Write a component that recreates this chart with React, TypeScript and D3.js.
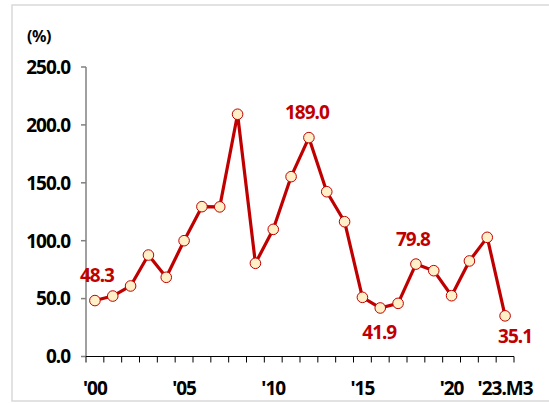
import React from "react";
import * as d3 from "d3";

const categories: string[] = [
  "2000","2001","2002","2003","2004","2005","2006","2007","2008","2009","2010","2011",
  "2012","2013","2014","2015","2016","2017","2018","2019","2020","2021","2022","2023.M3",
];
const values: number[] = [
  48.3, 52.2, 60.9, 87.6, 68.4, 100.0, 129.4, 129.2, 209.2, 80.5, 109.8, 155.3,
  189.0, 142.3, 116.4, 51.1, 41.9, 45.9, 79.8, 74.1, 52.5, 82.5, 102.9, 35.1,
];
const xTickLabels: { idx: number; text: string }[] = [
  { idx: 0, text: "'00" },
  { idx: 5, text: "'05" },
  { idx: 10, text: "'10" },
  { idx: 15, text: "'15" },
  { idx: 20, text: "'20" },
  { idx: 23, text: "'23.M3" },
];
const yTicks: number[] = [0, 50, 100, 150, 200, 250];
const annotations: { idx: number; text: string; dx: number; dy: number }[] = [
  { idx: 0, text: "48.3", dx: 2, dy: -19 },
  { idx: 12, text: "189.0", dx: -2, dy: -19 },
  { idx: 16, text: "41.9", dx: -1, dy: 31 },
  { idx: 18, text: "79.8", dx: -3, dy: -18 },
  { idx: 23, text: "35.1", dx: 10, dy: 27 },
];

const W = 549;
const H = 404;
const left = 86;
const right = 514;
const top = 67;
const bottom = 356.5;
const RED = "#C00000";
const FONT = "'Noto Sans', sans-serif";

export default function App() {
  const x = d3.scaleBand<string>().domain(categories).range([left, right]).padding(0);
  const y = d3.scaleLinear().domain([0, 250]).range([bottom, top]);
  const cx = (i: number) => (x(categories[i]) as number) + x.bandwidth() / 2;

  const line = d3
    .line<number>()
    .x((_, i) => cx(i))
    .y((d) => y(d));

  const tickPositions = d3.range(categories.length + 1).map((i) => left + i * x.bandwidth());

  return (
    <svg
      width={W}
      height={H}
      style={{ position: "absolute", left: 0, top: 0, background: "#fff" }}
    >
      <rect x={12} y={5} width={560} height={396} fill="#fff" stroke="#D9D9D9" strokeWidth={1.5} />
      <text x={39} y={42} textAnchor="middle" fontFamily={FONT} fontWeight={700} fontSize={16} letterSpacing={-0.5} fill="#000">
        (%)
      </text>
      {/* y axis */}
      <line x1={left} x2={left} y1={top} y2={bottom} stroke="#808080" strokeWidth={1.5} />
      {yTicks.map((t) => (
        <g key={t}>
          <line x1={left - 5} x2={left} y1={y(t)} y2={y(t)} stroke="#808080" strokeWidth={1.5} />
          <text
            x={70}
            y={y(t)}
            dy="0.36em"
            textAnchor="end"
            fontFamily={FONT}
            fontWeight={700}
            fontSize={19}
            letterSpacing={-1}
            fill="#000"
          >
            {t.toFixed(1)}
          </text>
        </g>
      ))}
      {/* x axis */}
      <line x1={left} x2={right} y1={bottom} y2={bottom} stroke="#000" strokeWidth={1.2} />
      {tickPositions.map((p, i) => (
        <line key={i} x1={p} x2={p} y1={bottom} y2={bottom + 6} stroke="#000" strokeWidth={1} />
      ))}
      {xTickLabels.map((t) => (
        <text
          key={t.idx}
          x={cx(t.idx)}
          y={395}
          textAnchor="middle"
          fontFamily={FONT}
          fontWeight={700}
          fontSize={19}
          letterSpacing={-1}
          fill="#000"
        >
          {t.text}
        </text>
      ))}
      {/* series */}
      <path d={line(values) || ""} fill="none" stroke={RED} strokeWidth={3.2} strokeLinejoin="round" />
      {values.map((v, i) => (
        <circle key={i} cx={cx(i)} cy={y(v)} r={5.3} fill="#FFF0C8" stroke={RED} strokeWidth={1} />
      ))}
      {annotations.map((a) => (
        <text
          key={a.idx}
          x={cx(a.idx) + a.dx}
          y={y(values[a.idx]) + a.dy}
          textAnchor="middle"
          fontFamily={FONT}
          fontWeight={700}
          fontSize={19}
          letterSpacing={-1}
          fill={RED}
        >
          {a.text}
        </text>
      ))}
    </svg>
  );
}
